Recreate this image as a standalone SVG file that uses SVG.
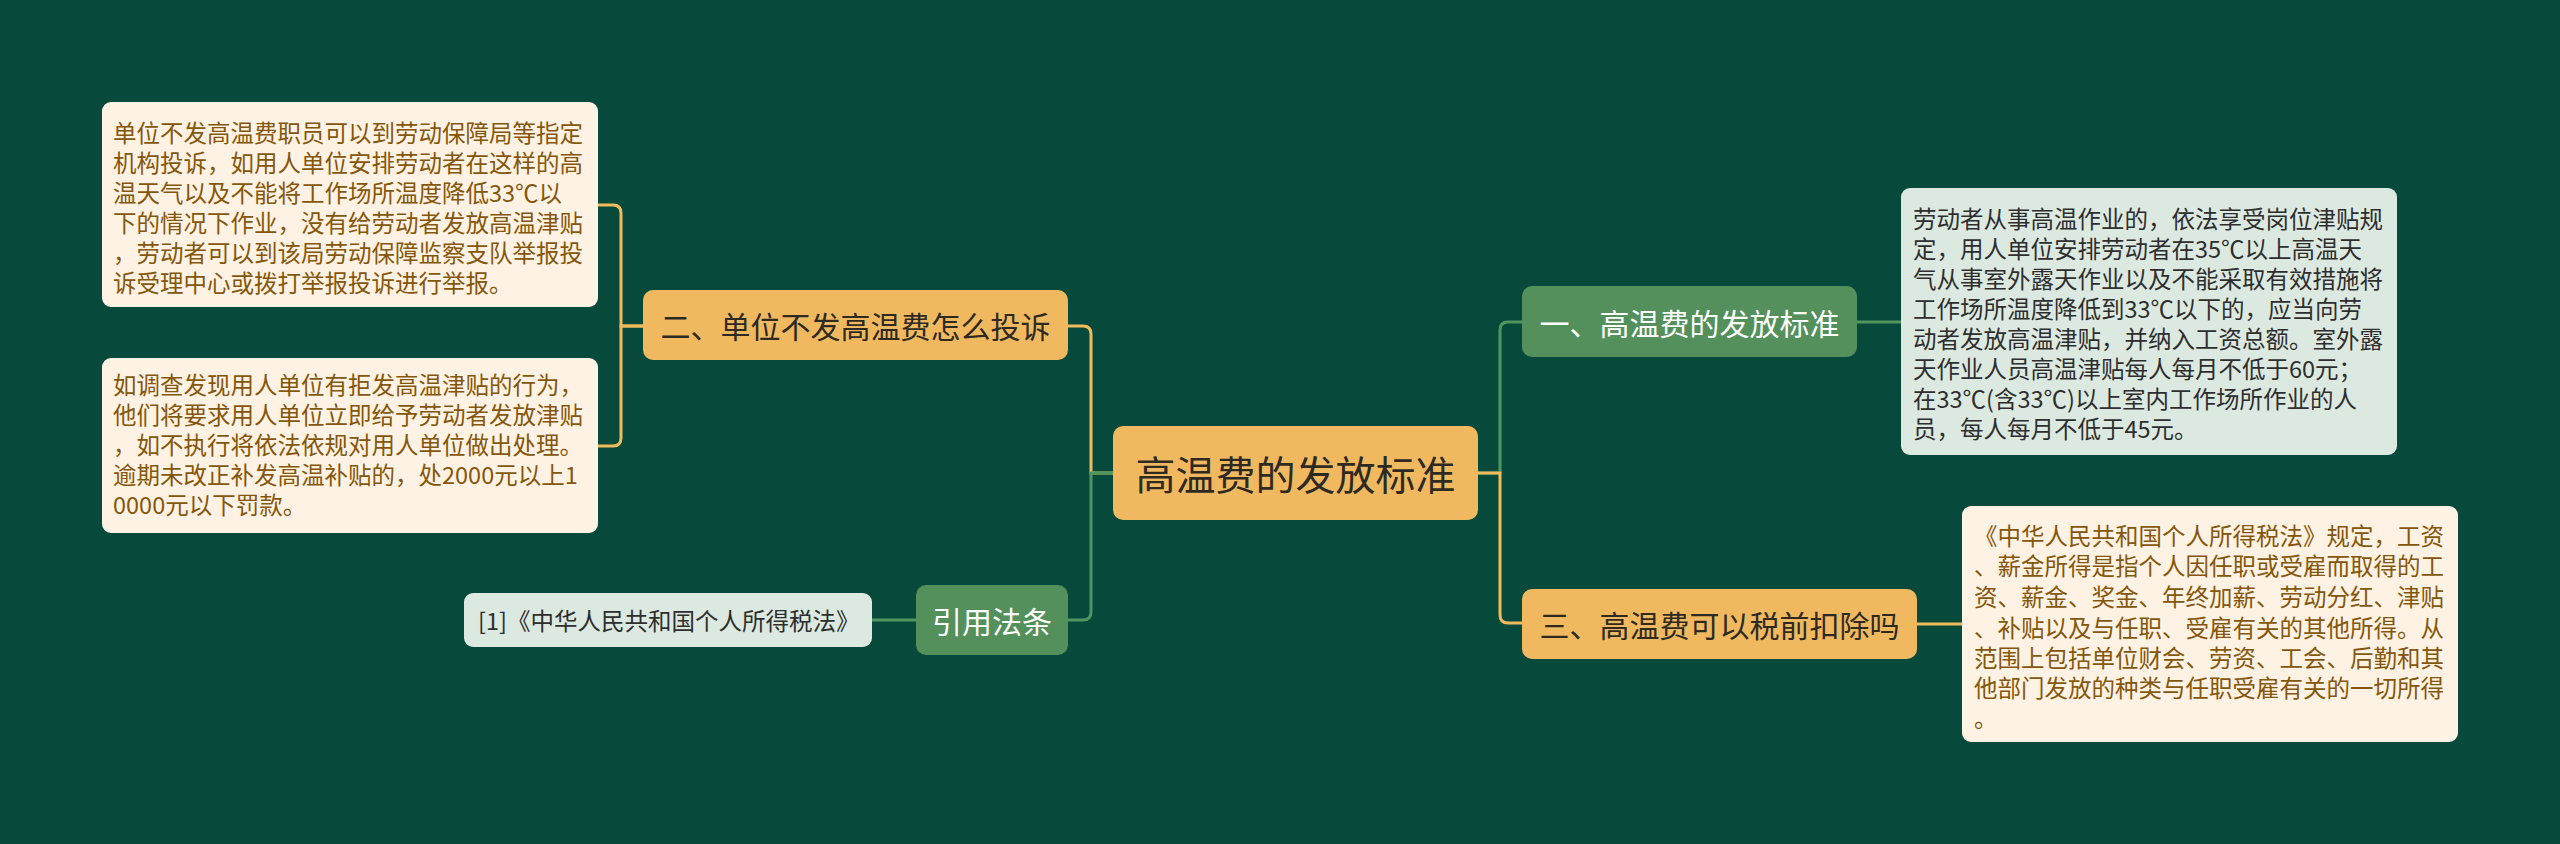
<svg xmlns="http://www.w3.org/2000/svg" width="2560" height="844" viewBox="0 0 2560 844">
<style>
text{font-family:"Noto Sans CJK SC","Noto Sans",sans-serif;dominant-baseline:central}
.lo{stroke:#efbb5c;stroke-width:3;fill:none}
.lg{stroke:#519560;stroke-width:3;fill:none}
.orange{fill:#f0b960}
.green{fill:#53905c}
.cream{fill:#fdf2e3}
.grey{fill:#dce9e1}
.dt{font-size:23.5px;fill:#85570a}
.gt{font-size:23.5px;fill:#2e2e2e}
</style>
<rect width="2560" height="844" fill="#07493a"/>
<g id="connectors">
<path class="lo" d="M1113 473H1091V334Q1091 326 1083 326H1068"/>
<path class="lg" d="M1113 473H1091V612Q1091 620 1083 620H1068"/>
<path class="lg" d="M1478 473H1500V330Q1500 322 1508 322H1522"/>
<path class="lo" d="M1478 473H1500V615Q1500 623 1508 623H1522"/>
<path class="lo" d="M643 326H621V213Q621 205 613 205H598"/>
<path class="lo" d="M643 326H621V438Q621 446 613 446H598"/>
<path class="lg" d="M916 620H872"/>
<path class="lg" d="M1857 322H1901"/>
<path class="lo" d="M1917 624H1962"/>
</g>
<g id="center">
<rect class="orange" x="1113" y="426" width="365" height="94" rx="10"/>
<text x="1295.5" y="473" font-size="40" fill="#2e2a22" text-anchor="middle">高温费的发放标准</text>
</g>
<g id="n2">
<rect class="orange" x="643" y="290" width="425" height="70" rx="10"/>
<text x="855.5" y="325" font-size="30" fill="#2e2a22" text-anchor="middle">二、单位不发高温费怎么投诉</text>
</g>
<g id="n2a">
<rect class="cream" x="102" y="102" width="496" height="205" rx="9"/>
<text class="dt" x="113"><tspan x="113" y="132">单位不发高温费职员可以到劳动保障局等指定</tspan><tspan x="113" y="162">机构投诉，如用人单位安排劳动者在这样的高</tspan><tspan x="113" y="192">温天气以及不能将工作场所温度降低33℃以</tspan><tspan x="113" y="222">下的情况下作业，没有给劳动者发放高温津贴</tspan><tspan x="113" y="252">，劳动者可以到该局劳动保障监察支队举报投</tspan><tspan x="113" y="282">诉受理中心或拨打举报投诉进行举报。</tspan></text>
</g>
<g id="n2b">
<rect class="cream" x="102" y="358" width="496" height="175" rx="9"/>
<text class="dt" x="113"><tspan x="113" y="384">如调查发现用人单位有拒发高温津贴的行为，</tspan><tspan x="113" y="414">他们将要求用人单位立即给予劳动者发放津贴</tspan><tspan x="113" y="444">，如不执行将依法依规对用人单位做出处理。</tspan><tspan x="113" y="474">逾期未改正补发高温补贴的，处2000元以上1</tspan><tspan x="113" y="504">0000元以下罚款。</tspan></text>
</g>
<g id="ref">
<rect class="green" x="916" y="585" width="152" height="70" rx="10"/>
<text x="992" y="620" font-size="30" fill="#ffffff" text-anchor="middle">引用法条</text>
</g>
<g id="ref1">
<rect class="grey" x="464" y="593" width="408" height="54" rx="9"/>
<text x="478" y="620" font-size="23.5" fill="#2e2e2e">[1]《中华人民共和国个人所得税法》</text>
</g>
<g id="n1">
<rect class="green" x="1522" y="286" width="335" height="71" rx="10"/>
<text x="1689.5" y="321.5" font-size="30" fill="#ffffff" text-anchor="middle">一、高温费的发放标准</text>
</g>
<g id="n1a">
<rect class="grey" x="1901" y="188" width="496" height="267" rx="9"/>
<text class="gt" x="1913"><tspan x="1913" y="218">劳动者从事高温作业的，依法享受岗位津贴规</tspan><tspan x="1913" y="248">定，用人单位安排劳动者在35℃以上高温天</tspan><tspan x="1913" y="278">气从事室外露天作业以及不能采取有效措施将</tspan><tspan x="1913" y="308">工作场所温度降低到33℃以下的，应当向劳</tspan><tspan x="1913" y="338">动者发放高温津贴，并纳入工资总额。室外露</tspan><tspan x="1913" y="368">天作业人员高温津贴每人每月不低于60元；</tspan><tspan x="1913" y="398">在33℃(含33℃)以上室内工作场所作业的人</tspan><tspan x="1913" y="428">员，每人每月不低于45元。</tspan></text>
</g>
<g id="n3">
<rect class="orange" x="1522" y="589" width="395" height="70" rx="10"/>
<text x="1719.5" y="624" font-size="30" fill="#2e2a22" text-anchor="middle">三、高温费可以税前扣除吗</text>
</g>
<g id="n3a">
<rect class="cream" x="1962" y="506" width="496" height="236" rx="9"/>
<text class="dt" x="1974"><tspan x="1974" y="535">《中华人民共和国个人所得税法》规定，工资</tspan><tspan x="1974" y="565">、薪金所得是指个人因任职或受雇而取得的工</tspan><tspan x="1974" y="596">资、薪金、奖金、年终加薪、劳动分红、津贴</tspan><tspan x="1974" y="627">、补贴以及与任职、受雇有关的其他所得。从</tspan><tspan x="1974" y="657">范围上包括单位财会、劳资、工会、后勤和其</tspan><tspan x="1974" y="687">他部门发放的种类与任职受雇有关的一切所得</tspan><tspan x="1974" y="717">。</tspan></text>
</g>
</svg>
